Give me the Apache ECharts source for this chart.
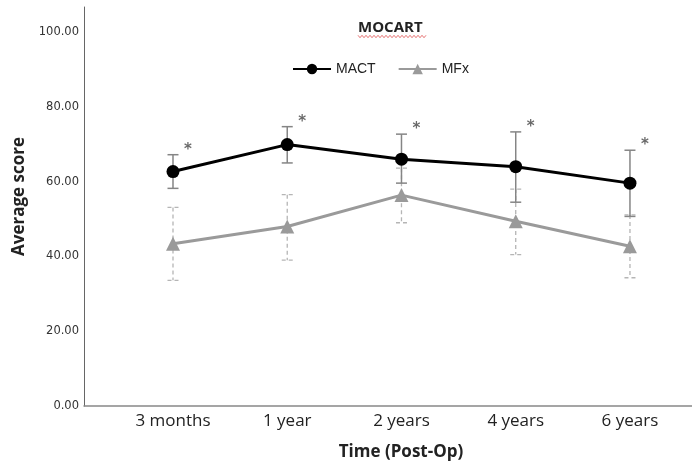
<!DOCTYPE html>
<html>
<head>
<meta charset="utf-8">
<script src="https://cdn.jsdelivr.net/npm/echarts@6/dist/echarts.min.js"></script>
<style>html,body{margin:0;padding:0;background:#fff}#c{width:692px;height:462px}</style>
</head>
<body>
<div id="c"></div>
<script>
const categories = ['3 months', '1 year', '2 years', '4 years', '6 years'];
const yTicks = [0, 20, 40, 60, 80, 100];
const mactMean = [62.7, 69.9, 66.0, 64.0, 59.6];
const mactLow  = [58.2, 65.0, 59.6, 54.5, 50.7];
const mactHigh = [67.2, 74.7, 72.7, 73.3, 68.4];
const mfxMean  = [43.4, 48.0, 56.4, 49.4, 42.7];
const mfxLow   = [33.6, 39.0, 49.0, 40.5, 34.3];
const mfxHigh  = [53.1, 56.5, 63.6, 58.0, 51.1];
const sigMarks = ['*', '*', '*', '*', '*'];

const chart = echarts.init(document.getElementById('c'), null, {renderer: 'canvas'});

function errBar(color, dash, width) {
  return function (params, api) {
    const x = api.value(0);
    const lo = api.coord([x, api.value(1)]);
    const hi = api.coord([x, api.value(2)]);
    const cw = 5.5;
    const style = {stroke: color, lineWidth: width, lineDash: dash, fill: null};
    return {
      type: 'group',
      children: [
        {type: 'line', shape: {x1: hi[0], y1: hi[1], x2: lo[0], y2: lo[1]}, style: style},
        {type: 'line', shape: {x1: hi[0] - cw, y1: hi[1], x2: hi[0] + cw, y2: hi[1]}, style: style},
        {type: 'line', shape: {x1: lo[0] - cw, y1: lo[1], x2: lo[0] + cw, y2: lo[1]}, style: style}
      ]
    };
  };
}

// wavy underline decoration for title
const wave = [];
for (let i = 0; i <= 34; i++) wave.push([358 + i * 2, 36.5 + (i % 2 ? 1.2 : -1.2)]);

const option = {
  animation: false,
  backgroundColor: '#fff',
  title: {
    text: 'MOCART', left: 353, top: 15,
    textStyle: {fontFamily: 'Open Sans', fontWeight: 'bold', fontSize: 15, color: '#222'}
  },
  graphic: [{
    type: 'polyline', silent: true,
    shape: {points: wave},
    style: {stroke: '#e05050', lineWidth: 0.8, fill: null}
  }],
  legend: {
    top: 57, left: 287,
    itemWidth: 38, itemHeight: 13, itemGap: 22,
    textStyle: {fontFamily: 'Liberation Sans', fontSize: 14, color: '#222'},
    data: ['MACT', 'MFx']
  },
  grid: {left: 84, right: 0, top: 7, bottom: 56, outerBoundsMode: 'none', containLabel: false},
  xAxis: {
    type: 'value', min: -0.779, max: 4.543,
    name: 'Time (Post-Op)', nameLocation: 'middle', nameGap: 38,
    nameTextStyle: {fontFamily: 'Open Sans', fontWeight: 'bold', fontSize: 17, color: '#222', padding: [0, 0, 0, 26]},
    axisLine: {show: true, onZero: false, lineStyle: {color: '#888', width: 1.5}},
    axisTick: {show: false},
    splitLine: {show: false},
    axisLabel: {
      customValues: categories.map((c, i) => i),
      formatter: v => categories[Math.round(v)] || '',
      fontFamily: 'Open Sans', fontSize: 17, color: '#222', margin: 7
    }
  },
  yAxis: {
    type: 'value', min: 0, max: 106.7,
    name: 'Average score', nameLocation: 'middle', nameGap: 55, nameRotate: 90,
    nameTextStyle: {fontFamily: 'Open Sans', fontWeight: 'bold', fontSize: 17, color: '#222', padding: [0, 0, 0, 20]},
    axisLine: {show: true, onZero: false, lineStyle: {color: '#666', width: 1}},
    axisTick: {show: false},
    splitLine: {show: false},
    axisLabel: {
      customValues: yTicks,
      formatter: v => v.toFixed(2),
      fontFamily: 'DejaVu Sans', fontSize: 11.5, color: '#333', margin: 5
    }
  },
  series: [
    {
      name: 'MFx-err', type: 'custom', renderItem: errBar('#b5b5b5', [4, 3], 1.3),
      data: mfxMean.map((v, i) => [i, mfxLow[i], mfxHigh[i]]), z: 1, silent: true
    },
    {
      name: 'MFx', type: 'line', data: mfxMean.map((v, i) => [i, v]),
      symbol: 'triangle', symbolSize: 14,
      lineStyle: {color: '#9a9a9a', width: 3},
      itemStyle: {color: '#9a9a9a'}, z: 2
    },
    {
      name: 'MACT-err', type: 'custom', renderItem: errBar('#858585', null, 1.5),
      data: mactMean.map((v, i) => [i, mactLow[i], mactHigh[i]]), z: 3, silent: true
    },
    {
      name: 'MACT', type: 'line', data: mactMean.map((v, i) => [i, v]),
      symbol: 'circle', symbolSize: 13,
      lineStyle: {color: '#000', width: 3},
      itemStyle: {color: '#000'}, z: 4
    },
    {
      name: 'sig', type: 'scatter', symbolSize: 0, silent: true,
      data: mactHigh.map((v, i) => [i, v]),
      label: {
        show: true, position: 'inside', offset: [15, -5],
        formatter: p => sigMarks[p.dataIndex],
        fontFamily: 'DejaVu Sans', fontSize: 15, fontWeight: 'bold', color: '#444'
      }, z: 5
    }
  ]
};
chart.setOption(option);
</script>
</body>
</html>
